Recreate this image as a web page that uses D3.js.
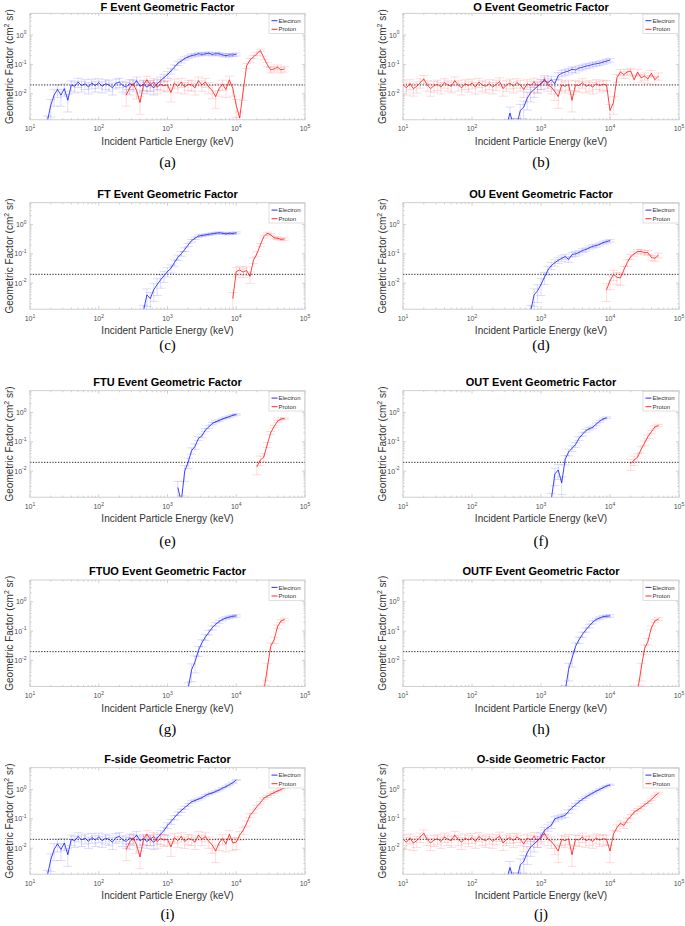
<!DOCTYPE html>
<html><head><meta charset="utf-8">
<script src="https://cdn.jsdelivr.net/npm/d3@7/dist/d3.min.js"></script>
<style>
body{margin:0;background:#fff}
svg text{font-family:"Liberation Sans",Arial,Helvetica,sans-serif}
svg text.tag{font-family:"Liberation Serif","Times New Roman",serif}
</style>
</head><body>
<svg id="fig" width="685" height="926"></svg>
<script>
// ---------- DATA ----------
// energy bin centres (keV)
const energies = [10, 11.2, 12.6, 14.1, 15.8, 17.8, 20.0, 22.4, 25.1, 28.2,
 31.6, 35.5, 39.8, 44.7, 50.1, 56.2, 63.1, 70.8, 79.4, 89.1,
 100, 112, 126, 141, 158, 178, 200, 224, 251, 282,
 316, 355, 398, 447, 501, 562, 631, 708, 794, 891,
 1000, 1122, 1259, 1413, 1585, 1778, 1995, 2239, 2512, 2818,
 3162, 3548, 3981, 4467, 5012, 5623, 6310, 7079, 7943, 8913,
 10000, 11220, 12590, 14130, 15850, 17780, 19950, 22390, 25120, 28180,
 31620, 35480, 39810, 44670, 50120];

const panelTitles = ["F Event Geometric Factor","O Event Geometric Factor",
 "FT Event Geometric Factor","OU Event Geometric Factor",
 "FTU Event Geometric Factor","OUT Event Geometric Factor",
 "FTUO Event Geometric Factor","OUTF Event Geometric Factor",
 "F-side Geometric Factor","O-side Geometric Factor"];
const panelTags = ["(a)","(b)","(c)","(d)","(e)","(f)","(g)","(h)","(i)","(j)"];
const seriesNames = ["Electron","Proton"];
const xTickValues = [10,100,1000,10000,100000];
const xTickExp = ["1","2","3","4","5"];
const yTickValues = [0.01,0.1,1];
const yTickExp = ["-2","-1","0"];
const referenceLevel = 0.02;
const xDomain = [10,100000];
const yDomain = [0.0013,5.5];

// first energy of each series
const electronStart = [17.8, 316, 447, 708, 1413, 1413, 1995, 2239, 17.8, 316];
const protonStart   = [251, 10, 8913, 8913, 19950, 19950, 25120, 25120, 251, 10];

const electronA = [0.0011, 0.004, 0.009, 0.014, 0.009, 0.015, 0.006, 0.02, 0.018, 0.025,
 0.019, 0.022, 0.017, 0.023, 0.019, 0.024, 0.018, 0.022, 0.02, 0.016,
 0.023, 0.025, 0.019, 0.017, 0.022, 0.02, 0.028, 0.018, 0.021, 0.017,
 0.02, 0.016, 0.022, 0.028, 0.036, 0.045, 0.06, 0.08, 0.11, 0.13,
 0.16, 0.18, 0.2, 0.21, 0.23, 0.22, 0.23, 0.24, 0.22, 0.23,
 0.23, 0.21, 0.2, 0.21, 0.21, 0.22];
const protonA = [0.009, 0.016, 0.022, 0.013, 0.005, 0.02, 0.03, 0.02, 0.025, 0.017,
 0.021, 0.019, 0.02, 0.011, 0.023, 0.018, 0.025, 0.017, 0.021, 0.02,
 0.016, 0.028, 0.02, 0.025, 0.017, 0.013, 0.008, 0.015, 0.021, 0.014,
 0.03, 0.015, 0.004, 0.0015, 0.012, 0.09, 0.14, 0.18, 0.23, 0.3,
 0.17, 0.1, 0.065, 0.07, 0.08, 0.065, 0.07];

const electronB = [0.0008, 0.0022, 0.0009, 0.0009, 0.0027, 0.0035, 0.007, 0.011, 0.014, 0.018,
 0.022, 0.028, 0.024, 0.03, 0.022, 0.042, 0.05, 0.055, 0.06, 0.068,
 0.065, 0.075, 0.08, 0.087, 0.092, 0.1, 0.105, 0.11, 0.12, 0.13,
 0.14];
const protonB = [0.02, 0.016, 0.022, 0.015, 0.018, 0.024, 0.032, 0.02, 0.015, 0.019,
 0.021, 0.017, 0.024, 0.02, 0.018, 0.028, 0.02, 0.016, 0.022, 0.019,
 0.023, 0.017, 0.025, 0.02, 0.018, 0.022, 0.017, 0.021, 0.026, 0.015,
 0.02, 0.023, 0.018, 0.024, 0.02, 0.014, 0.022, 0.019, 0.025, 0.018,
 0.022, 0.032, 0.02, 0.017, 0.012, 0.008, 0.02, 0.018, 0.021, 0.006,
 0.02, 0.019, 0.024, 0.018, 0.02, 0.017, 0.022, 0.019, 0.021, 0.02,
 0.0027, 0.005, 0.035, 0.055, 0.045, 0.055, 0.06, 0.03, 0.055, 0.035,
 0.04, 0.032, 0.05, 0.03, 0.04];

const electronC = [0.0011, 0.004, 0.003, 0.006, 0.009, 0.013, 0.018, 0.025, 0.032, 0.05,
 0.075, 0.1, 0.14, 0.2, 0.28, 0.34, 0.4, 0.42, 0.44, 0.46,
 0.48, 0.5, 0.52, 0.5, 0.48, 0.5, 0.49, 0.52];
const protonC = [0.003, 0.025, 0.028, 0.024, 0.027, 0.017, 0.06, 0.1, 0.2, 0.38,
 0.5, 0.45, 0.35, 0.34, 0.31, 0.32];

const electronD = [0.0011, 0.004, 0.0055, 0.009, 0.016, 0.028, 0.04, 0.05, 0.06, 0.07,
 0.08, 0.065, 0.095, 0.1, 0.11, 0.13, 0.14, 0.16, 0.18, 0.19,
 0.21, 0.24, 0.26, 0.28];
const protonD = [0.006, 0.012, 0.02, 0.016, 0.015, 0.028, 0.05, 0.08, 0.1, 0.12,
 0.12, 0.11, 0.11, 0.075, 0.07, 0.09];

const electronE = [0.0028, 0.0009, 0.01, 0.02, 0.05, 0.07, 0.13, 0.16, 0.25, 0.32,
 0.42, 0.48, 0.53, 0.6, 0.66, 0.72, 0.8, 0.85];
const protonE = [0.014, 0.024, 0.03, 0.08, 0.2, 0.33, 0.5, 0.6, 0.62];

const electronF = [0.0011, 0.008, 0.011, 0.004, 0.025, 0.045, 0.06, 0.08, 0.13, 0.18,
 0.24, 0.28, 0.31, 0.4, 0.5, 0.6, 0.66];
const protonF = [0.018, 0.024, 0.03, 0.055, 0.09, 0.15, 0.22, 0.32, 0.36];

const electronG = [0.0011, 0.0048, 0.009, 0.022, 0.04, 0.062, 0.09, 0.13, 0.17, 0.21,
 0.25, 0.28, 0.3, 0.32, 0.33];
const protonG = [0.0009, 0.005, 0.03, 0.05, 0.14, 0.22, 0.25];

const electronH = [0.0009, 0.005, 0.012, 0.03, 0.05, 0.077, 0.11, 0.15, 0.2, 0.25,
 0.28, 0.31, 0.32, 0.33];
const protonH = [0.0009, 0.005, 0.025, 0.045, 0.13, 0.22, 0.26];

const electronI = electronA.slice(0, 33).concat([0.03, 0.04, 0.06, 0.08, 0.11, 0.15, 0.19, 0.24, 0.3, 0.38,
 0.42, 0.47, 0.52, 0.62, 0.7, 0.76, 0.85, 0.95, 1.1, 1.25,
 1.45, 1.7, 2.1]);
const protonI = protonA.slice(0, 32).concat([0.016, 0.028, 0.04, 0.07, 0.13, 0.18, 0.26, 0.35, 0.5, 0.58,
 0.68, 0.78, 0.88, 1.0, 1.15]);

const electronJ = electronB.slice(0, 10).concat([0.025, 0.04, 0.05, 0.06, 0.1, 0.11, 0.12, 0.13, 0.18, 0.24,
 0.3, 0.38, 0.46, 0.55, 0.65, 0.75, 0.88, 1.0, 1.15, 1.3,
 1.45]);
const protonJ = protonB.slice(0, 60).concat([0.008, 0.03, 0.05, 0.07, 0.06, 0.09, 0.12, 0.17, 0.2, 0.24,
 0.3, 0.36, 0.46, 0.6, 0.75]);

const electronSeries = [electronA, electronB, electronC, electronD, electronE, electronF, electronG, electronH, electronI, electronJ];
const protonSeries = [protonA, protonB, protonC, protonD, protonE, protonF, protonG, protonH, protonI, protonJ];
const relErrScale = 0.055; // statistical error ~ 1/sqrt(counts)

// ---------- LAYOUT ----------
const colX = [[30, 305], [403, 679]];
const rowTop = [13.3, 202.7, 390.7, 580, 767.7];
const plotH = 106.5;
const tagBaseline = [167, 350, 546, 734, 919];
const seriesColor = ["#1414ff", "#ff1414"];

const svg = d3.select("#fig");

function buildPoints(startE, vals) {
  const s = energies.indexOf(startE);
  return vals.map((v, i) => ({e: energies[s + i], v: v}));
}

function addPow(textSel, exp, expSize, rise) {
  textSel.append("tspan").text("10");
  textSel.append("tspan").attr("dy", -rise).attr("font-size", expSize).text(exp);
}

panelTitles.forEach((title, i) => {
  const col = i % 2, row = Math.floor(i / 2);
  const L = colX[col][0], R = colX[col][1];
  const T = rowTop[row], B = T + plotH;
  const x = d3.scaleLog().domain(xDomain).range([L, R]);
  const y = d3.scaleLog().domain(yDomain).range([B, T]);
  const g = svg.append("g");
  const clipId = "clip" + i;
  g.append("clipPath").attr("id", clipId).append("rect")
    .attr("x", L).attr("y", T).attr("width", R - L).attr("height", plotH);

  // minor + major ticks (inward on all four sides)
  const tickCol = "#bdbdbd";
  const xMinor = [];
  for (let d = 10; d < 100000; d *= 10) for (let m = 2; m <= 9; m++) xMinor.push(d * m);
  const yMinor = [];
  for (let d = 0.001; d < 10; d *= 10) for (let m = 2; m <= 9; m++) { const v = d * m; if (v > yDomain[0] && v < yDomain[1]) yMinor.push(v); }
  const tk = g.append("g").attr("stroke", tickCol).attr("stroke-width", 0.7);
  xMinor.forEach(v => {
    tk.append("line").attr("x1", x(v)).attr("x2", x(v)).attr("y1", B).attr("y2", B - 1.6);
    tk.append("line").attr("x1", x(v)).attr("x2", x(v)).attr("y1", T).attr("y2", T + 1.6);
  });
  xTickValues.forEach(v => {
    tk.append("line").attr("x1", x(v)).attr("x2", x(v)).attr("y1", B).attr("y2", B - 3);
    tk.append("line").attr("x1", x(v)).attr("x2", x(v)).attr("y1", T).attr("y2", T + 3);
  });
  yMinor.forEach(v => {
    tk.append("line").attr("x1", L).attr("x2", L + 1.6).attr("y1", y(v)).attr("y2", y(v));
    tk.append("line").attr("x1", R).attr("x2", R - 1.6).attr("y1", y(v)).attr("y2", y(v));
  });
  yTickValues.forEach(v => {
    tk.append("line").attr("x1", L).attr("x2", L + 3).attr("y1", y(v)).attr("y2", y(v));
    tk.append("line").attr("x1", R).attr("x2", R - 3).attr("y1", y(v)).attr("y2", y(v));
  });

  // tick labels
  xTickValues.forEach((v, k) => {
    const t = g.append("text").attr("x", x(v)).attr("y", B + 11.5)
      .attr("text-anchor", "middle").attr("font-size", 7).attr("fill", "#4d4d4d");
    addPow(t, xTickExp[k], 5, 3.2);
  });
  yTickValues.forEach((v, k) => {
    const t = g.append("text").attr("x", L - 3.5).attr("y", y(v) + 2.5)
      .attr("text-anchor", "end").attr("font-size", 7).attr("fill", "#4d4d4d");
    addPow(t, yTickExp[k], 5, 3.2);
  });

  // reference dotted line
  g.append("line").attr("x1", x(xDomain[0])).attr("x2", x(xDomain[1]))
    .attr("y1", y(referenceLevel)).attr("y2", y(referenceLevel))
    .attr("stroke", "#111").attr("stroke-width", 0.9).attr("stroke-dasharray", "1.3,1.5");

  // data
  const data = g.append("g").attr("clip-path", `url(#${clipId})`);
  const sets = [buildPoints(electronStart[i], electronSeries[i]), buildPoints(protonStart[i], protonSeries[i])];
  sets.forEach((pts, s) => {
    const eb = data.append("g").attr("stroke", seriesColor[s]).attr("stroke-opacity", 0.17).attr("stroke-width", 0.9);
    pts.forEach(p => {
      const err = Math.min(0.6, relErrScale / Math.sqrt(p.v));
      const lo = p.v * (1 - err), hi = p.v * (1 + err);
      const px = x(p.e);
      eb.append("line").attr("x1", px).attr("x2", px).attr("y1", y(lo)).attr("y2", y(hi));
      eb.append("line").attr("x1", px - 4.5).attr("x2", px + 4.5).attr("y1", y(lo)).attr("y2", y(lo));
      eb.append("line").attr("x1", px - 4.5).attr("x2", px + 4.5).attr("y1", y(hi)).attr("y2", y(hi));
    });
    data.append("path").datum(pts)
      .attr("fill", "none").attr("stroke", seriesColor[s]).attr("stroke-width", 0.8)
      .attr("d", d3.line().x(p => x(p.e)).y(p => y(p.v)));
  });

  // axes box
  g.append("rect").attr("x", L).attr("y", T).attr("width", R - L).attr("height", plotH)
    .attr("fill", "none").attr("stroke", "#c4c4c4").attr("stroke-width", 0.8);

  // legend
  const lg = g.append("g");
  lg.append("rect").attr("x", R - 36).attr("y", T + 0.8).attr("width", 35.6).attr("height", 19.5)
    .attr("fill", "#fff").attr("stroke", "#d0d0d0").attr("stroke-width", 0.7);
  seriesNames.forEach((nm, s) => {
    const ly = T + 7.4 + s * 8.6;
    lg.append("line").attr("x1", R - 33.5).attr("x2", R - 27.5).attr("y1", ly).attr("y2", ly)
      .attr("stroke", seriesColor[s]).attr("stroke-width", 0.9);
    lg.append("text").attr("x", R - 26.5).attr("y", ly + 2.1).attr("font-size", 6)
      .attr("fill", "#333").text(nm);
  });

  // title
  g.append("text").attr("x", (L + R) / 2).attr("y", Math.max(T - 5, 10.5)).attr("text-anchor", "middle")
    .attr("font-size", 11).attr("font-weight", "bold").attr("fill", "#000").text(title);

  // x label
  g.append("text").attr("x", (L + R) / 2).attr("y", B + 25).attr("text-anchor", "middle")
    .attr("font-size", 10).attr("fill", "#333").text("Incident Particle Energy (keV)");

  // y label
  const yl = g.append("text").attr("transform", `translate(${L - 17.5},${(T + B) / 2}) rotate(-90)`)
    .attr("text-anchor", "middle").attr("font-size", 10).attr("fill", "#333");
  yl.append("tspan").text("Geometric Factor (cm");
  yl.append("tspan").attr("dy", -4).attr("font-size", 7).text("2");
  yl.append("tspan").attr("dy", 4).text(" sr)");

  // panel tag
  g.append("text").attr("class", "tag").attr("x", (L + R) / 2).attr("y", tagBaseline[row])
    .attr("text-anchor", "middle").attr("font-size", 15)
    .attr("fill", "#000").text(panelTags[i]);
});
</script>
</body></html>
